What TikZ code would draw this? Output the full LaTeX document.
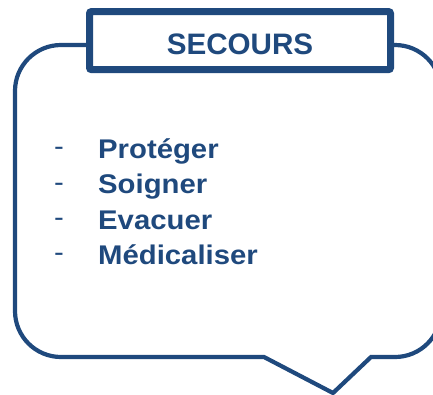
\documentclass[tikz,border=0pt]{standalone}
\usepackage{fontspec}
\setmainfont{Liberation Sans}
\newfontfamily\entryfont[FakeStretch=1.085]{Liberation Sans}
\usetikzlibrary{
  positioning}
\definecolor{bubblecolor}{RGB}{31,73,125}
\tikzset{
  %% bubble : outline of the speech bubble
  bubble/.style={
    draw=bubblecolor,
    line width=4.2pt,
    line join=miter
  },
  %% headbox : the framed heading on top of the bubble
  headbox/.style={
    rectangle,
    draw=bubblecolor,
    fill=white,
    line width=7pt,
    rounded corners=2pt,
    minimum width=301pt,
    minimum height=58pt,
    text height=27.8pt,
    text depth=0pt,
    text=bubblecolor,
    font=\bfseries\fontsize{29.6pt}{30pt}\selectfont,
    align=center
  },
  %% entrydash : the dash in front of an entry
  entrydash/.style={
    anchor=base west,
    inner sep=0pt,
    text=bubblecolor,
    font=\entryfont\fontsize{27pt}{30pt}\selectfont
  },
  %% entry : one entry of the list
  entry/.style={
    anchor=base west,
    inner sep=0pt,
    text=bubblecolor,
    font=\entryfont\bfseries\fontsize{27pt}{30pt}\selectfont
  }
}

\begin{document}
\begin{tikzpicture}
  [x=1pt,
  y=-1pt]

  \useasboundingbox (0, 0) rectangle (433, 394);

  %% Bubble with its pointer
  \draw [bubble] (200, 357) -- (264, 357) -- (333, 393) -- (371, 357)
  -- (380, 357) [rounded corners=46pt] -- (441, 357) -- (441, 45)
  -- (15, 45) -- (15, 357) -- (200, 357);

  %% Heading
  \node (head) [headbox] at (240, 40.6) {SECOURS};

  %% List
  \node (protect) [entry] at (98, 158.5) {Protéger};
  \node (care) [below=35.3pt of protect.base west, entry] {Soigner};
  \node (evacuate) [below=35.3pt of care.base west, entry] {Evacuer};
  \node (medical) [below=35.3pt of evacuate.base west, entry] {Médicaliser};

  %% Dashes
  \node (dash protect) [left=44pt of protect.base west, entrydash, yshift=2.8pt] {-};
  \node (dash care) [left=44pt of care.base west, entrydash, yshift=2.8pt] {-};
  \node (dash evacuate) [left=44pt of evacuate.base west, entrydash, yshift=2.8pt] {-};
  \node (dash medical) [left=44pt of medical.base west, entrydash, yshift=2.8pt] {-};

\end{tikzpicture}
\end{document}
